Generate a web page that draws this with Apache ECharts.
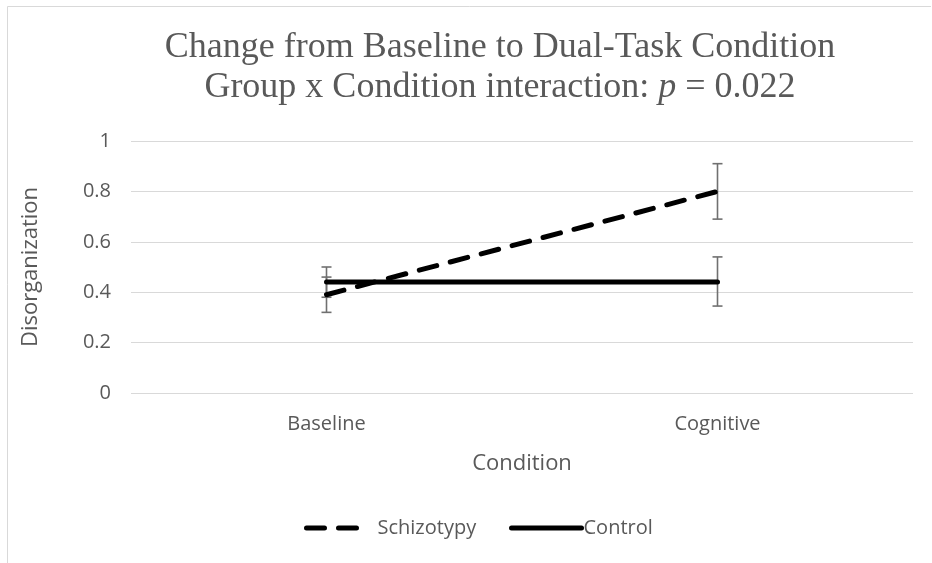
<!DOCTYPE html>
<html><head><meta charset="utf-8">
<script src="https://cdn.jsdelivr.net/npm/echarts@6/dist/echarts.min.js"></script>
<style>html,body{margin:0;padding:0;background:#fff}#c{width:932px;height:563px}</style>
</head><body><div id="c"></div>
<script>
const categories = ['Baseline', 'Cognitive'];
const schizotypy = [0.39, 0.80];
const schizotypyLow = [0.32, 0.69];
const schizotypyHigh = [0.46, 0.91];
const control = [0.44, 0.44];
const controlLow = [0.38, 0.345];
const controlHigh = [0.50, 0.54];
const yTicks = [0, 0.2, 0.4, 0.6, 0.8, 1];

const chart = echarts.init(document.getElementById('c'));
const txt = '#595959';
const sans = '"Open Sans", "Noto Sans", sans-serif';

function errSeries(name, low, high) {
  return {
    type: 'custom', name: name + ' err', silent: true, z: 1,
    data: categories.map((c, i) => [i, low[i], high[i]]),
    renderItem: function (params, api) {
      const a = api.coord([api.value(0), api.value(1)]);
      const b = api.coord([api.value(0), api.value(2)]);
      const w = 5;
      const st = { stroke: '#707070', lineWidth: 1.6 };
      return { type: 'group', children: [
        { type: 'line', shape: { x1: a[0], y1: a[1], x2: b[0], y2: b[1] }, style: st },
        { type: 'line', shape: { x1: a[0]-w, y1: a[1], x2: a[0]+w, y2: a[1] }, style: st },
        { type: 'line', shape: { x1: b[0]-w, y1: b[1], x2: b[0]+w, y2: b[1] }, style: st }
      ]};
    }
  };
}

const legendBase = {
  bottom: 20, itemHeight: 14, selectedMode: false,
  itemStyle: { opacity: 0 },
  lineStyle: { width: 5, cap: 'round' },
  textStyle: { fontFamily: sans, fontSize: 20, color: txt }
};

chart.setOption({
  animation: false,
  backgroundColor: '#fff',
  graphic: [
    { type: 'line', shape: { x1: 7.5, y1: 6.5, x2: 931, y2: 6.5 }, style: { stroke: '#d9d9d9', lineWidth: 1 } },
    { type: 'line', shape: { x1: 7.5, y1: 6.5, x2: 7.5, y2: 563 }, style: { stroke: '#d9d9d9', lineWidth: 1 } }
  ],
  title: {
    left: 495, top: 23, textAlign: 'center',
    text: 'Change from Baseline to Dual-Task Condition\nGroup x Condition interaction: {i|p} = 0.022',
    textStyle: {
      fontFamily: '"Liberation Serif", "Times New Roman", serif', fontSize: 36, fontWeight: 'normal',
      color: txt, lineHeight: 40,
      rich: { i: { fontFamily: '"Liberation Serif", serif', fontStyle: 'italic', fontSize: 36, color: txt, lineHeight: 40 } }
    }
  },
  legend: [
    Object.assign({}, legendBase, { left: 299, itemWidth: 60, data: ['Schizotypy'],
      textStyle: Object.assign({}, legendBase.textStyle, { padding: [0, 0, 0, 6] }) }),
    Object.assign({}, legendBase, { left: 504, itemWidth: 70, itemGap: 0, data: ['Control'],
      textStyle: Object.assign({}, legendBase.textStyle, { padding: [0, 0, 0, -3] }) })
  ],
  grid: { left: 131, right: 19, top: 141, bottom: 170 },
  xAxis: {
    type: 'category', data: categories, boundaryGap: true,
    name: 'Condition', nameLocation: 'middle', nameGap: 60,
    nameTextStyle: { fontFamily: sans, fontSize: 22, color: txt },
    axisLine: { show: false }, axisTick: { show: false },
    axisLabel: { fontFamily: sans, fontSize: 20, color: txt, margin: 21 }
  },
  yAxis: {
    type: 'value', min: 0, max: 1, interval: 0.2,
    name: 'Disorganization', nameLocation: 'middle', nameGap: 89, nameRotate: 90,
    nameTextStyle: { fontFamily: sans, fontSize: 22, color: txt },
    axisLine: { show: false }, axisTick: { show: false },
    axisLabel: { fontFamily: sans, fontSize: 20, color: txt, margin: 20,
      formatter: v => { const t = yTicks.find(x => Math.abs(x - v) < 1e-9); return t === undefined ? '' : String(t); } },
    splitLine: { lineStyle: { color: '#d9d9d9', width: 1 } }
  },
  series: [
    errSeries('Schizotypy', schizotypyLow, schizotypyHigh),
    errSeries('Control', controlLow, controlHigh),
    {
      name: 'Schizotypy', type: 'line', data: schizotypy, symbol: 'none', z: 3,
      lineStyle: { color: '#000', width: 5, type: [18, 14], cap: 'round' },
      itemStyle: { color: '#000' }
    },
    {
      name: 'Control', type: 'line', data: control, symbol: 'none', z: 3,
      lineStyle: { color: '#000', width: 5, type: 'solid', cap: 'round' },
      itemStyle: { color: '#000' }
    }
  ]
});
</script></body></html>
